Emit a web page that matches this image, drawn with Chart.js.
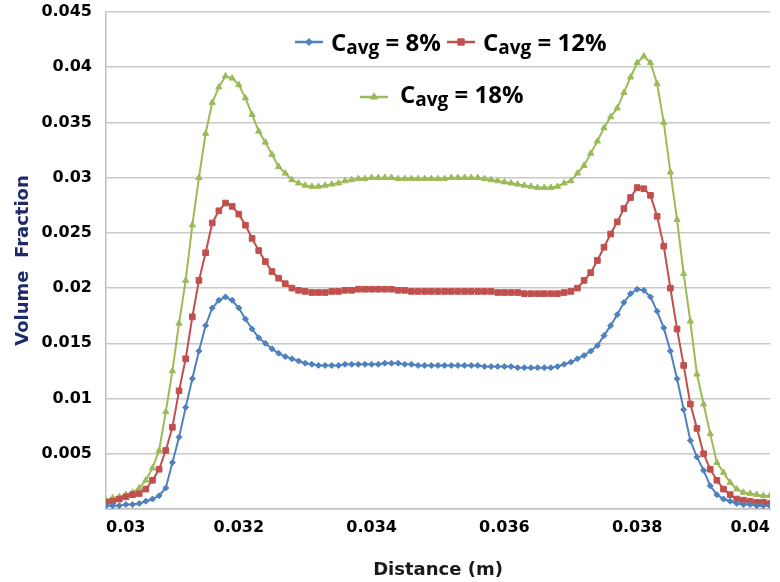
<!DOCTYPE html>
<html>
<head>
<meta charset="utf-8">
<script src="https://cdn.jsdelivr.net/npm/chart.js@4.4.1/dist/chart.umd.min.js"></script>
<style>
  html, body { margin: 0; padding: 0; background: #ffffff; }
  #wrap { width: 780px; height: 582px; }
</style>
</head>
<body>
<div id="wrap"><canvas id="chart" width="780" height="582"></canvas></div>
<script>
// Radial distance across the channel (m)
const distance = [
  0.0300, 0.0301, 0.0302, 0.0303, 0.0304, 0.0305, 0.0306, 0.0307, 0.0308, 0.0309,
  0.0310, 0.0311, 0.0312, 0.0313, 0.0314, 0.0315, 0.0316, 0.0317, 0.0318, 0.0319,
  0.0320, 0.0321, 0.0322, 0.0323, 0.0324, 0.0325, 0.0326, 0.0327, 0.0328, 0.0329,
  0.0330, 0.0331, 0.0332, 0.0333, 0.0334, 0.0335, 0.0336, 0.0337, 0.0338, 0.0339,
  0.0340, 0.0341, 0.0342, 0.0343, 0.0344, 0.0345, 0.0346, 0.0347, 0.0348, 0.0349,
  0.0350, 0.0351, 0.0352, 0.0353, 0.0354, 0.0355, 0.0356, 0.0357, 0.0358, 0.0359,
  0.0360, 0.0361, 0.0362, 0.0363, 0.0364, 0.0365, 0.0366, 0.0367, 0.0368, 0.0369,
  0.0370, 0.0371, 0.0372, 0.0373, 0.0374, 0.0375, 0.0376, 0.0377, 0.0378, 0.0379,
  0.0380, 0.0381, 0.0382, 0.0383, 0.0384, 0.0385, 0.0386, 0.0387, 0.0388, 0.0389,
  0.0390, 0.0391, 0.0392, 0.0393, 0.0394, 0.0395, 0.0396, 0.0397, 0.0398, 0.0399,
  0.0400
];

// Volume fraction profile, average concentration 8%
const cavg8 = [
  0.0003, 0.0003, 0.0003, 0.0004, 0.0004, 0.0005, 0.0007, 0.0009, 0.0012, 0.0019,
  0.0042, 0.0065, 0.0092, 0.0118, 0.0143, 0.0166, 0.0182, 0.0189, 0.0192, 0.0189,
  0.0182, 0.0172, 0.0163, 0.0155, 0.0150, 0.0145, 0.0141, 0.0138, 0.0136, 0.0134,
  0.0132, 0.0131, 0.0130, 0.0130, 0.0130, 0.0130, 0.0131, 0.0131, 0.0131, 0.0131,
  0.0131, 0.0131, 0.0132, 0.0132, 0.0132, 0.0131, 0.0131, 0.0130, 0.0130, 0.0130,
  0.0130, 0.0130, 0.0130, 0.0130, 0.0130, 0.0130, 0.0130, 0.0129, 0.0129, 0.0129,
  0.0129, 0.0129, 0.0128, 0.0128, 0.0128, 0.0128, 0.0128, 0.0128, 0.0129, 0.0131,
  0.0133, 0.0136, 0.0139, 0.0143, 0.0148, 0.0157, 0.0166, 0.0176, 0.0187, 0.0195,
  0.0199, 0.0198, 0.0192, 0.0179, 0.0164, 0.0143, 0.0118, 0.0090, 0.0062, 0.0047,
  0.0035, 0.0021, 0.0013, 0.0009, 0.0007, 0.0005, 0.0004, 0.0004, 0.0003, 0.0003,
  0.0003
];

// Volume fraction profile, average concentration 12%
const cavg12 = [
  0.0006, 0.0007, 0.0009, 0.0011, 0.0013, 0.0014, 0.0018, 0.0026, 0.0036, 0.0053,
  0.0074, 0.0107, 0.0136, 0.0174, 0.0207, 0.0232, 0.0259, 0.0270, 0.0277, 0.0274,
  0.0267, 0.0257, 0.0245, 0.0234, 0.0224, 0.0215, 0.0209, 0.0204, 0.0200, 0.0198,
  0.0197, 0.0196, 0.0196, 0.0196, 0.0197, 0.0197, 0.0198, 0.0198, 0.0199, 0.0199,
  0.0199, 0.0199, 0.0199, 0.0199, 0.0198, 0.0198, 0.0197, 0.0197, 0.0197, 0.0197,
  0.0197, 0.0197, 0.0197, 0.0197, 0.0197, 0.0197, 0.0197, 0.0197, 0.0197, 0.0196,
  0.0196, 0.0196, 0.0196, 0.0195, 0.0195, 0.0195, 0.0195, 0.0195, 0.0195, 0.0196,
  0.0197, 0.0200, 0.0207, 0.0214, 0.0225, 0.0237, 0.0249, 0.0260, 0.0272, 0.0282,
  0.0291, 0.0290, 0.0284, 0.0265, 0.0238, 0.0200, 0.0163, 0.0130, 0.0095, 0.0073,
  0.0050, 0.0036, 0.0026, 0.0018, 0.0013, 0.0009, 0.0008, 0.0007, 0.0006, 0.0006,
  0.0005
];

// Volume fraction profile, average concentration 18%
const cavg18 = [
  0.0008, 0.0010, 0.0011, 0.0013, 0.0015, 0.0019, 0.0026, 0.0037, 0.0053, 0.0088,
  0.0125, 0.0168, 0.0207, 0.0257, 0.0300, 0.0340, 0.0368, 0.0382, 0.0392, 0.0390,
  0.0384, 0.0372, 0.0357, 0.0342, 0.0332, 0.0321, 0.0310, 0.0304, 0.0298, 0.0295,
  0.0293, 0.0292, 0.0292, 0.0293, 0.0294, 0.0295, 0.0297, 0.0298, 0.0299, 0.0299,
  0.0300, 0.0300, 0.0300, 0.0300, 0.0299, 0.0299, 0.0299, 0.0299, 0.0299, 0.0299,
  0.0299, 0.0299, 0.0300, 0.0300, 0.0300, 0.0300, 0.0300, 0.0299, 0.0298, 0.0297,
  0.0296, 0.0295, 0.0294, 0.0293, 0.0292, 0.0291, 0.0291, 0.0291, 0.0292, 0.0295,
  0.0297, 0.0304, 0.0311, 0.0322, 0.0333, 0.0345, 0.0355, 0.0363, 0.0377, 0.0391,
  0.0404, 0.0410, 0.0404, 0.0385, 0.0350, 0.0305, 0.0262, 0.0213, 0.0170, 0.0122,
  0.0095, 0.0068, 0.0042, 0.0033, 0.0024, 0.0018, 0.0015, 0.0014, 0.0013, 0.0012,
  0.0012
];

const seriesNames = ['8%', '12%', '18%'];
const seriesValues = [cavg8, cavg12, cavg18];
const seriesColors = ['#4F81BD', '#C0504D', '#9BBB59'];
const seriesMarkers = ['rectRot', 'rect', 'triangle'];
const seriesMarkerRadius = [3, 4, 3.6];

const xTicks = { min: 0.03, max: 0.04, step: 0.002 };
const yTicks = { min: 0, max: 0.045, step: 0.005 };

const tickFont = { family: 'DejaVu Sans', size: 16, weight: 'bold' };
const titleFont = { family: 'DejaVu Sans', size: 18, weight: 'bold' };
const fmt = v => Number(v.toFixed(4)).toString();

const datasets = seriesValues.map((vals, k) => ({
  label: 'Cavg = ' + seriesNames[k],
  data: distance.map((d, i) => ({ x: d, y: vals[i] })),
  borderColor: seriesColors[k],
  backgroundColor: seriesColors[k],
  pointBackgroundColor: seriesColors[k],
  pointBorderColor: seriesColors[k],
  pointStyle: seriesMarkers[k],
  pointRadius: seriesMarkerRadius[k],
  pointBorderWidth: 1,
  borderWidth: 2,
  tension: 0
}));

// Legend drawn inside the plot, with a subscripted "avg"
const legendLayout = [
  { lineFrom: 295, lineTo: 323, y: 42, textX: 331, baseline: 51 },
  { lineFrom: 447, lineTo: 475, y: 42, textX: 483, baseline: 51 },
  { lineFrom: 360, lineTo: 388, y: 97, textX: 400, baseline: 103 }
];

const insideLegend = {
  id: 'insideLegend',
  afterDraw(chart) {
    const ctx = chart.ctx;
    ctx.save();
    chart.data.datasets.forEach((ds, k) => {
      const L = legendLayout[k];
      ctx.strokeStyle = ds.borderColor;
      ctx.fillStyle = ds.borderColor;
      ctx.lineWidth = 2.5;
      ctx.beginPath();
      ctx.moveTo(L.lineFrom, L.y);
      ctx.lineTo(L.lineTo, L.y);
      ctx.stroke();
      ctx.lineWidth = 1;
      Chart.helpers.drawPoint(ctx, {
        pointStyle: ds.pointStyle, rotation: 0,
        radius: ds.pointRadius + 0.5, borderWidth: 1
      }, (L.lineFrom + L.lineTo) / 2, L.y);

      ctx.fillStyle = '#000000';
      ctx.textBaseline = 'alphabetic';
      ctx.textAlign = 'left';
      let x = L.textX;
      ctx.font = 'bold 24px "Open Sans"';
      ctx.fillText('C', x, L.baseline);
      x += ctx.measureText('C').width;
      ctx.font = 'bold 19px "Open Sans"';
      ctx.fillText('avg', x, L.baseline + 3);
      x += ctx.measureText('avg').width;
      ctx.font = 'bold 24px "Open Sans"';
      ctx.fillText(' = ' + seriesNames[k], x, L.baseline);
    });
    ctx.restore();
  }
};

new Chart(document.getElementById('chart'), {
  type: 'line',
  data: { datasets },
  options: {
    responsive: false,
    animation: false,
    devicePixelRatio: 1,
    layout: { padding: { top: 12, right: 10, left: 0, bottom: 0 } },
    plugins: {
      legend: { display: false },
      tooltip: { enabled: false }
    },
    scales: {
      x: {
        type: 'linear',
        min: xTicks.min,
        max: xTicks.max,
        ticks: {
          stepSize: xTicks.step,
          align: 'inner',
          padding: 9,
          color: '#000000',
          font: tickFont,
          callback: v => fmt(v)
        },
        grid: { display: false, drawTicks: false },
        border: { display: true, color: '#BFBFBF', width: 1.5 },
        title: {
          display: true,
          text: 'Distance (m)',
          color: '#1a1a1a',
          font: titleFont,
          padding: { top: 0, bottom: 1 }
        },
        afterFit(s) { s.height = 73; s.paddingLeft = 0; s.paddingRight = 0; }
      },
      y: {
        type: 'linear',
        min: yTicks.min,
        max: yTicks.max,
        ticks: {
          stepSize: yTicks.step,
          padding: 14,
          color: '#000000',
          font: tickFont,
          callback: v => (v === 0 ? '' : fmt(v))
        },
        grid: { display: true, drawTicks: false, color: '#C8C8C8', lineWidth: 1.5 },
        border: { display: true, color: '#BFBFBF', width: 1.5 },
        title: {
          display: true,
          text: 'Volume  Fraction',
          color: '#1F2A6B',
          font: titleFont,
          padding: { top: 13, bottom: 0 }
        },
        afterFit(s) { s.width = 106; s.paddingTop = 0; s.paddingBottom = 0; }
      }
    }
  },
  plugins: [insideLegend]
});
</script>
</body>
</html>
